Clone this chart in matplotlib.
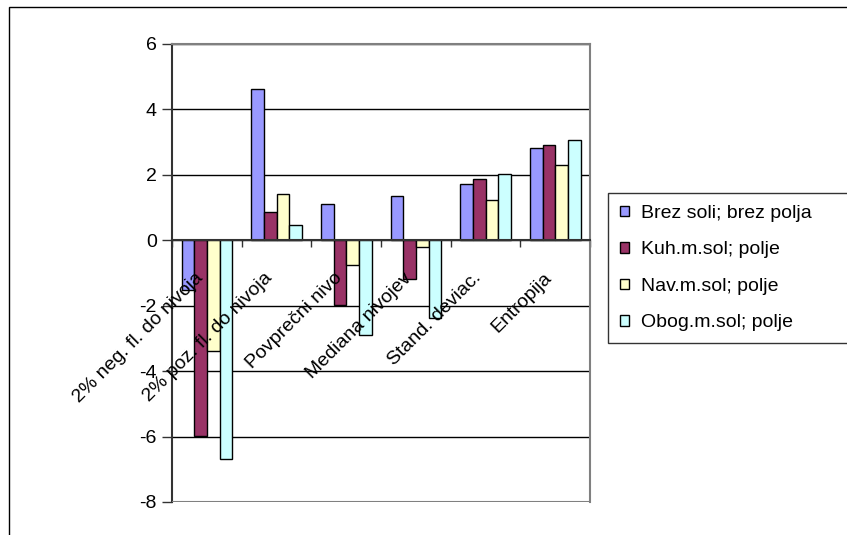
import numpy as np
import matplotlib.pyplot as plt
from matplotlib.patches import Rectangle

plt.rcParams['font.family'] = ['Liberation Sans', 'DejaVu Sans']
plt.rcParams['axes.unicode_minus'] = False

categories = ['2% neg. fl. do nivoja', '2% poz. fl. do nivoja', 'Povprečni nivo',
              'Mediana nivojev', 'Stand. deviac.', 'Entropija']
series_names = ['Brez soli; brez polja', 'Kuh.m.sol; polje', 'Nav.m.sol; polje', 'Obog.m.sol; polje']
brez_soli = [-1.52, 4.62, 1.10, 1.35, 1.72, 2.81]
kuh_sol = [-5.97, 0.87, -1.98, -1.18, 1.87, 2.91]
nav_sol = [-3.37, 1.40, -0.77, -0.21, 1.24, 2.29]
obog_sol = [-6.69, 0.48, -2.89, -2.38, 2.02, 3.07]
colors = ['#9999FF', '#993366', '#FFFFCC', '#CCFFFF']

FS = 14

fig = plt.figure(figsize=(8.47, 5.35), dpi=100)
ax = fig.add_axes([172/847, 1-502/535, (590-172)/847, (502-44)/535])

# outer chart border (only top and left visible in the crop)
fig.patches.append(Rectangle((9/847, -0.1), 1.2, 1-7/535+0.1, transform=fig.transFigure,
                             fill=False, edgecolor='black', linewidth=1))

x = np.arange(len(categories))
w = 1/5.5
data = [brez_soli, kuh_sol, nav_sol, obog_sol]
for i, (vals, name, c) in enumerate(zip(data, series_names, colors)):
    ax.bar(x + (i-1.5)*w, vals, w, color=c, edgecolor='black', linewidth=1, label=name, zorder=3)

ax.set_xlim(-0.5, len(categories)-0.5)
ax.set_ylim(-8, 6)
ax.set_yticks(range(-8, 7, 2))
ax.yaxis.grid(True, color='black', linewidth=1, zorder=0)
ax.tick_params(axis='y', direction='out', length=7, width=1, labelsize=FS, pad=4,
               colors='#333333', labelcolor='black')

for s in ['top', 'right']:
    ax.spines[s].set_color('#808080')
    ax.spines[s].set_linewidth(1.5)
ax.spines['left'].set_color('#333333')
ax.spines['left'].set_linewidth(1.5)
ax.spines['bottom'].set_position(('data', 0))
ax.spines['bottom'].set_color('#333333')
ax.spines['bottom'].set_linewidth(1.5)
ax.spines['bottom'].set_zorder(4)
ax.axhline(-8, color='#808080', linewidth=1.5, zorder=4)

ax.set_xticks(np.arange(-0.5, len(categories)))
ax.set_xticklabels([])
ax.tick_params(axis='x', direction='out', length=5, width=1, colors='#333333')
for xi, lab in zip(x, categories):
    ax.annotate(lab, xy=(xi, 0), xytext=(-9, -21), textcoords='offset points',
                ha='right', va='top', rotation=45, rotation_mode='anchor',
                fontsize=FS, zorder=5)

# legend box runs off the right edge like in the original
leg = ax.legend(loc='upper left', mode='expand',
                bbox_to_anchor=(608/847, 1-193/535, (880-608)/847, 0), bbox_transform=fig.transFigure,
                fontsize=FS, frameon=True, fancybox=False, edgecolor='black',
                handlelength=0.46, handleheight=0.46, handletextpad=0.62, labelspacing=1.0,
                borderpad=0.62, borderaxespad=0)
leg.get_frame().set_linewidth(1)

fig.savefig('out.png', dpi=100)
